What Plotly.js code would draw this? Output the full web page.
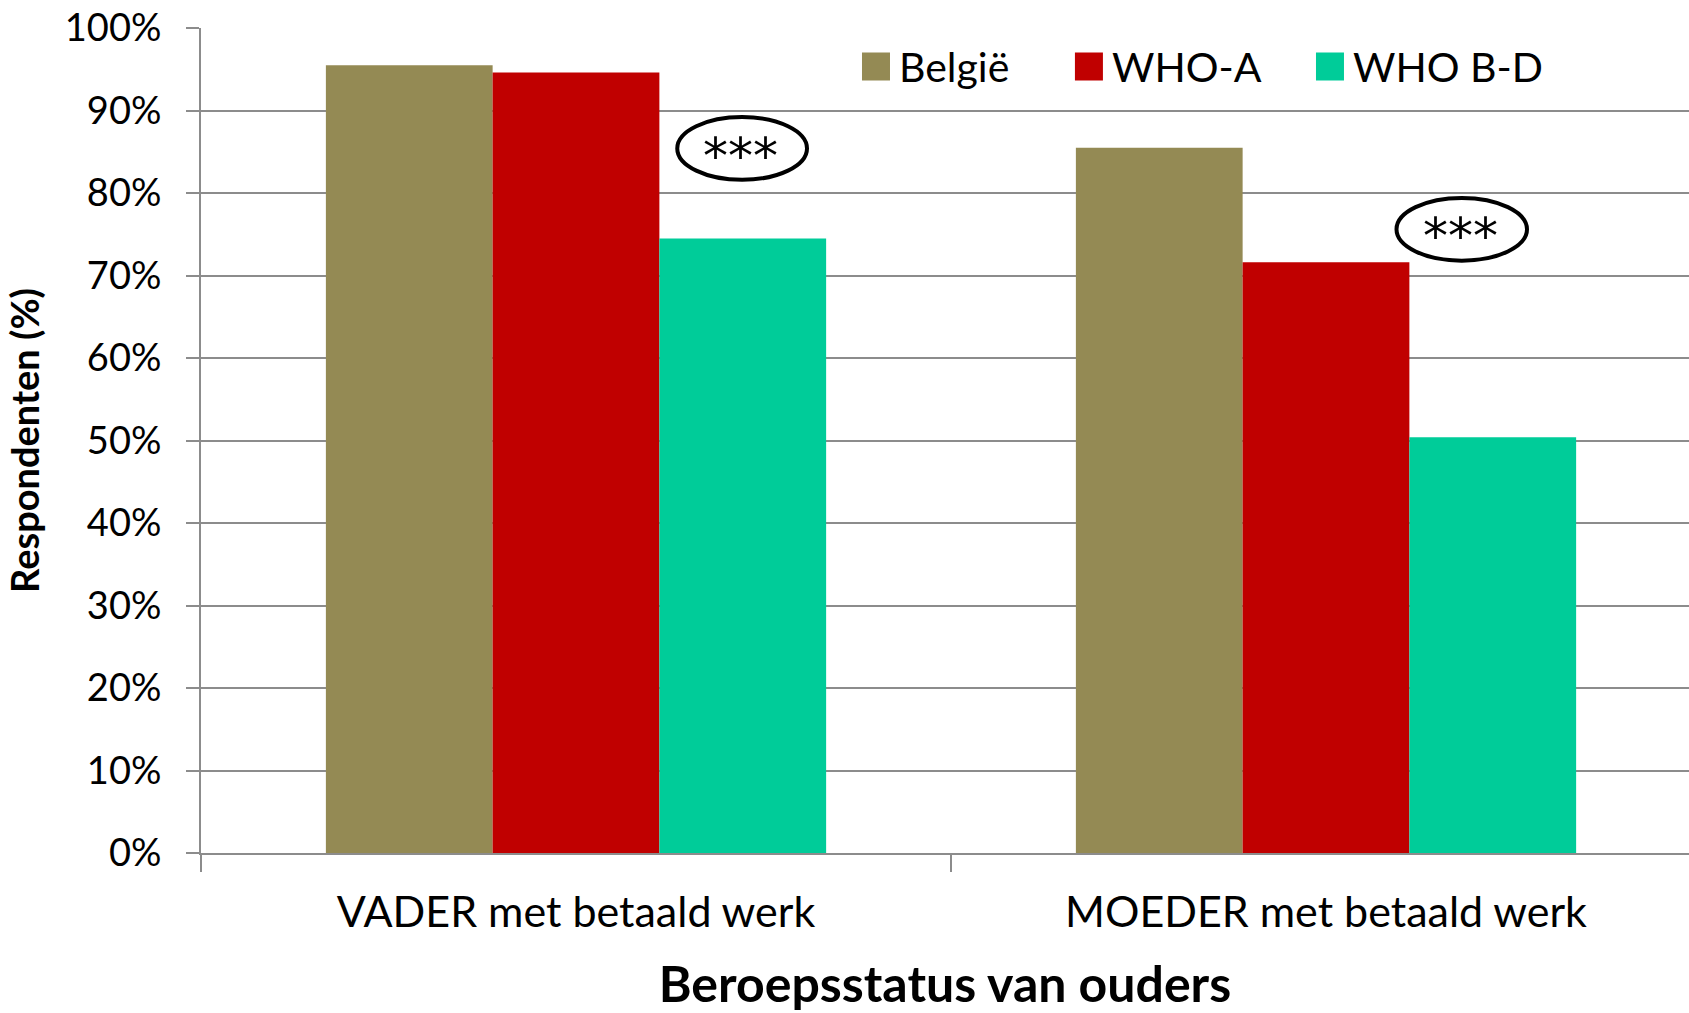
<!DOCTYPE html>
<html>
<head>
<meta charset="utf-8">
<script src="https://cdn.plot.ly/plotly-3.0.1.min.js"></script>
<style>
html, body { margin: 0; padding: 0; background: #fff; }
#chart { width: 1689px; height: 1013px; }
</style>
</head>
<body>
<div id="chart"></div>
<script>
const categories = ["VADER met betaald werk", "MOEDER met betaald werk"];
const seriesNames = ["België", "WHO-A", "WHO B-D"];
const belgie = [95.5, 85.5];
const whoA = [94.6, 71.6];
const whoBD = [74.5, 50.4];
const seriesColors = ["#948A54", "#C00000", "#00CC99"];
const signifLabel = "***";

const FONT = "Lato, 'Open Sans', sans-serif";
const seriesValues = [belgie, whoA, whoBD];
const legendIds = ["legend", "legend2", "legend3"];
const legendX = [0.4422, 0.5853, 0.7473];

const traces = seriesValues.map((vals, i) => ({
  type: "bar",
  name: seriesNames[i],
  x: categories,
  y: vals,
  legend: legendIds[i],
  marker: { color: seriesColors[i], line: { width: 0 } },
  hoverinfo: "x+y+name"
}));

const ellipses = [
  { x0: 0.135, x1: 0.308, y0: 81.6, y1: 89.2, tx: 0.219, ty: 86.0 },
  { x0: 1.094, x1: 1.268, y0: 71.8, y1: 79.4, tx: 1.179, ty: 76.2 }
];

const layout = {
  width: 1689,
  height: 1013,
  margin: { l: 201, r: 0, t: 28, b: 160 },
  paper_bgcolor: "#ffffff",
  plot_bgcolor: "#ffffff",
  font: { family: FONT, color: "#000000", size: 36 },
  barmode: "group",
  bargap: 0.333,
  bargroupgap: 0,
  showlegend: true,
  xaxis: {
    type: "category",
    range: [-0.5, 1.484],
    showline: true,
    linecolor: "#8C8C8C",
    linewidth: 2,
    ticks: "outside",
    tickson: "boundaries",
    ticklen: 17,
    tickwidth: 2,
    tickcolor: "#8C8C8C",
    ticklabelstandoff: 20,
    tickfont: { family: FONT, size: 43, color: "#000000" },
    showgrid: false,
    zeroline: false,
    title: {
      text: "<b>Beroepsstatus van ouders</b>",
      font: { family: FONT, size: 50, color: "#000000" },
      standoff: 36
    }
  },
  yaxis: {
    range: [0, 100],
    dtick: 10,
    ticksuffix: "%",
    showline: true,
    linecolor: "#8C8C8C",
    linewidth: 2,
    ticks: "outside",
    ticklen: 13,
    tickwidth: 2,
    tickcolor: "#8C8C8C",
    ticklabelstandoff: 17,
    tickfont: { family: FONT, size: 38, color: "#000000" },
    showgrid: true,
    gridcolor: "#8C8C8C",
    gridwidth: 2,
    zeroline: false,
    title: {
      text: "<b>Respondenten (%)</b>",
      font: { family: FONT, size: 38, color: "#000000" },
      standoff: 14
    }
  },
  shapes: ellipses.map(e => ({
    type: "circle",
    xref: "x", yref: "y",
    x0: e.x0, x1: e.x1, y0: e.y0, y1: e.y1,
    line: { color: "#000000", width: 4 },
    fillcolor: "rgba(0,0,0,0)"
  })),
  annotations: ellipses.map(e => ({
    xref: "x", yref: "y",
    x: e.tx, y: e.ty,
    text: signifLabel,
    showarrow: false,
    font: { family: "'DejaVu Sans', sans-serif", size: 50, color: "#000000" },
    xanchor: "center", yanchor: "middle",
    yshift: -12
  }))
};

legendIds.forEach((id, i) => {
  layout[id] = {
    orientation: "h",
    x: legendX[i],
    xanchor: "left",
    y: 0.953,
    yanchor: "middle",
    font: { family: FONT, size: 41, color: "#000000" },
    bgcolor: "rgba(0,0,0,0)",
    itemclick: false,
    itemdoubleclick: false
  };
});

function enlargeLegendSymbols() {
  document.querySelectorAll("#chart g.legendpoints path").forEach(p => {
    p.setAttribute("d", "M11,14H-17V-14H11Z");
  });
}

Plotly.newPlot("chart", traces, layout, { displayModeBar: false, staticPlot: true }).then(gd => {
  enlargeLegendSymbols();
  gd.on("plotly_afterplot", enlargeLegendSymbols);
  setTimeout(enlargeLegendSymbols, 50);
  setTimeout(enlargeLegendSymbols, 300);
});
</script>
</body>
</html>
